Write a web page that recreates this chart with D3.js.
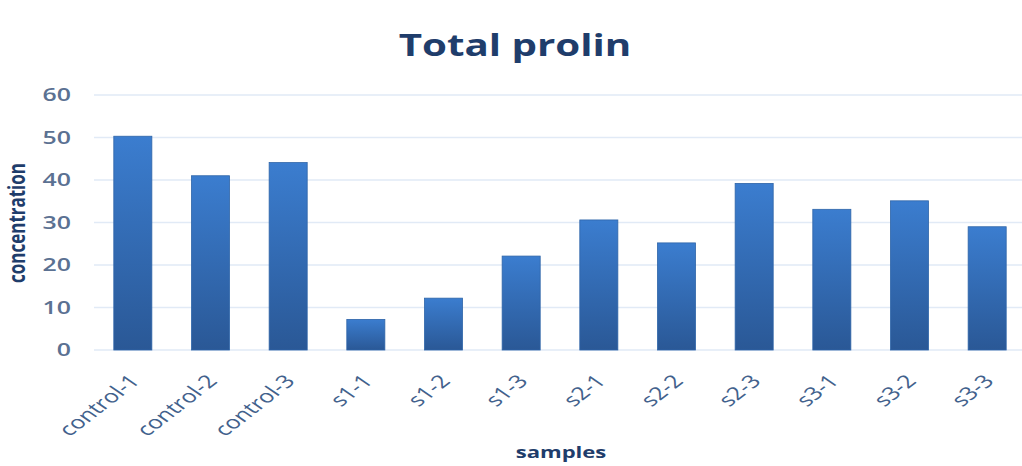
<!DOCTYPE html>
<html>
<head>
<meta charset="utf-8">
<script src="https://cdn.jsdelivr.net/npm/d3@7"></script>
<style>
  body { margin: 0; background: #fff; }
</style>
</head>
<body>
<div id="chart"></div>
<script>
// chart data
const samples = ["control-1", "control-2", "control-3", "s1-1", "s1-2", "s1-3",
                 "s2-1", "s2-2", "s2-3", "s3-1", "s3-2", "s3-3"];
const concentration = [50.3, 41.0, 44.1, 7.2, 12.2, 22.1, 30.6, 25.2, 39.2, 33.1, 35.1, 29.0];
const yTicks = [0, 10, 20, 30, 40, 50, 60];

const data = samples.map((s, i) => ({ sample: s, value: concentration[i] }));

const width = 1022, height = 466;
const margin = { top: 95, right: -4, bottom: 116, left: 94 };
// the original picture looks stretched sideways, so text is widened to match
const stretch = 1.38;

const svg = d3.select("#chart").append("svg")
    .attr("width", width)
    .attr("height", height);

// bar gradient
const grad = svg.append("defs").append("linearGradient")
    .attr("id", "barGrad")
    .attr("x1", 0).attr("y1", 0).attr("x2", 0).attr("y2", 1);
grad.append("stop").attr("offset", "0%").attr("stop-color", "#3b7dcf");
grad.append("stop").attr("offset", "100%").attr("stop-color", "#2a5896");

const x = d3.scaleBand()
    .domain(samples)
    .range([margin.left, width - margin.right])
    .paddingInner(0.51)
    .paddingOuter(0.255);

const y = d3.scaleLinear()
    .domain([0, 60])
    .range([height - margin.bottom, margin.top]);

// gridlines
svg.append("g")
    .selectAll("line")
    .data(yTicks)
    .enter()
    .append("line")
    .attr("x1", margin.left)
    .attr("x2", width)
    .attr("y1", d => y(d))
    .attr("y2", d => y(d))
    .attr("stroke", "#e1eaf6")
    .attr("stroke-width", 1.5);

// y axis labels
svg.append("g")
    .attr("transform", `translate(71,0)`)
    .call(d3.axisLeft(y).tickValues(yTicks).tickSize(0).tickPadding(0))
    .call(g => g.select(".domain").remove())
    .selectAll("text")
    .attr("x", 0)
    .attr("transform", `scale(${stretch},1)`)
    .attr("font-family", "Open Sans, sans-serif")
    .attr("font-size", "18px")
    .attr("font-weight", 600)
    .attr("fill", "#5b7192");

// bars
svg.append("g")
    .selectAll("rect")
    .data(data)
    .enter()
    .append("rect")
    .attr("x", d => x(d.sample))
    .attr("y", d => y(d.value))
    .attr("width", x.bandwidth())
    .attr("height", d => y(0) - y(d.value))
    .attr("fill", "url(#barGrad)")
    .attr("stroke", "#2f65a8")
    .attr("stroke-width", 0.8);

// x axis labels
svg.append("g")
    .attr("transform", `translate(0,${height - margin.bottom})`)
    .call(d3.axisBottom(x).tickSize(0).tickPadding(0))
    .call(g => g.select(".domain").remove())
    .selectAll("text")
    .attr("font-family", "Open Sans, sans-serif")
    .attr("font-size", "18px")
    .attr("fill", "#42618c")
    .attr("y", 0)
    .attr("dy", 0)
    .attr("transform", `translate(8,32) scale(${stretch},1) rotate(-47)`)
    .style("text-anchor", "end");

// title
svg.append("text")
    .attr("transform", `translate(515,56) scale(1.3,1)`)
    .attr("text-anchor", "middle")
    .attr("font-family", "Open Sans, sans-serif")
    .attr("font-weight", "bold")
    .attr("font-size", "31px")
    .attr("fill", "#1f3d6b")
    .text("Total prolin");

// axis titles
svg.append("text")
    .attr("transform", `translate(25,223) scale(${stretch},1) rotate(-90)`)
    .attr("text-anchor", "middle")
    .attr("font-family", "Open Sans, sans-serif")
    .attr("font-weight", "bold")
    .attr("font-size", "17px")
    .attr("fill", "#1f3d6b")
    .text("concentration");

svg.append("text")
    .attr("transform", `translate(561,458) scale(${stretch},1)`)
    .attr("text-anchor", "middle")
    .attr("font-family", "Open Sans, sans-serif")
    .attr("font-weight", "bold")
    .attr("font-size", "16px")
    .attr("fill", "#1f3d6b")
    .text("samples");
</script>
</body>
</html>
